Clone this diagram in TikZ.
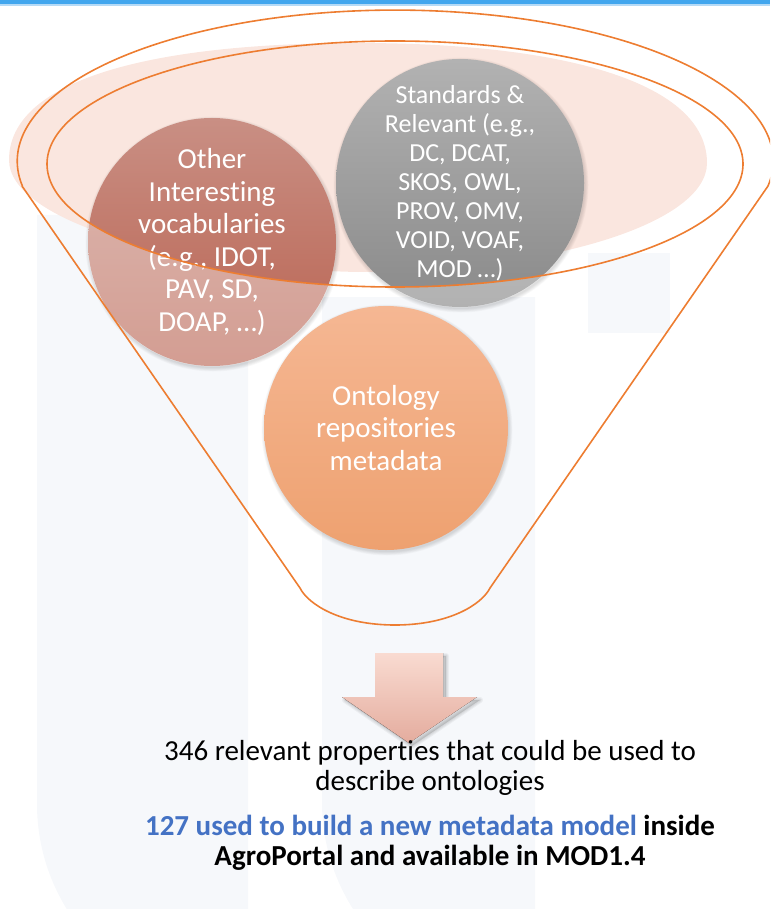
\documentclass[tikz,border=0pt]{standalone}
\usepackage{fontspec}
\setmainfont{Carlito}[Ligatures={NoCommon}]
\usetikzlibrary{calc}

\definecolor{barblue}{HTML}{42A6EE}
\definecolor{barlight}{HTML}{B5DAF6}
\definecolor{rimorange}{HTML}{ED7D31}
\definecolor{rimpink}{HTML}{FAE6DF}
\definecolor{wmark}{HTML}{F6F8FB}
\definecolor{redtop}{HTML}{C98F84}
\definecolor{redbot}{HTML}{B96250}
\definecolor{greytop}{HTML}{B2B2B2}
\definecolor{greybot}{HTML}{8A8A8A}
\definecolor{orgtop}{HTML}{F5B793}
\definecolor{orgbot}{HTML}{EEA170}
\definecolor{arrtop}{HTML}{F9DBD1}
\definecolor{arrbot}{HTML}{E4AC9E}
\definecolor{modelblue}{HTML}{4472C4}

% soft shadow under a disc: centre x, centre y, radius
\newcommand\discshadow[3]{%
  \foreach \k in {0,...,5}{%
    \fill[black, opacity=0.025] (#1+1,#2+2) circle [radius=#3+3.5-0.7*\k];
  }%
}

\tikzset{
  bubble/.style={circle, minimum size=#1, inner sep=0pt, draw=none},
  bubbletext/.style={text=white, align=center, inner sep=0pt},
  bigfont/.style={font=\fontsize{29}{32.5}\selectfont},
  smallfont/.style={font=\fontsize{26}{29}\selectfont},
  rim/.style={draw=rimorange, line width=1.6pt},
  bodytext/.style={anchor=base, inner sep=0pt, font=\fontsize{29}{30}\selectfont},
  boldtext/.style={anchor=base, inner sep=0pt, font=\fontsize{29}{30}\selectfont\bfseries},
}

\begin{document}
\begin{tikzpicture}[x=1pt, y=-1pt]
\useasboundingbox (0,0) rectangle (770,909);
\clip (0,0) rectangle (770,909);

% faint background watermark
\fill[wmark] (37,215) -- (37,804) arc[start angle=180, end angle=90, radius=200]
  -- (248,1004) -- (248,215) -- cycle;
\fill[wmark] (322,297) -- (322,802) arc[start angle=180, end angle=90, radius=200]
  -- (535,1002) -- (535,297) -- cycle;
\fill[wmark] (588,253) rectangle (670,333);

% top bar
\fill[barblue] (0,0) rectangle (770,4.3);
\fill[barlight] (0,4.3) rectangle (770,5.6);

% pink glow of the funnel mouth
\fill[rimpink] (9,160) .. controls (9,80) and (150,43) .. (358,43)
  .. controls (566,43) and (707,83) .. (707,163)
  .. controls (707,223) and (551,272) .. (358,272)
  .. controls (165,268) and (9,218) .. cycle;

% discs
\discshadow{212}{242}{124}
\node[bubble=248pt, top color=redtop, bottom color=redbot] (other) at (212,242) {};
\discshadow{460}{183}{124}
\node[bubble=248pt, top color=greytop, bottom color=greybot] (std) at (460,183) {};

% front of the funnel lightens the lower parts of the discs
\begin{scope}
  \clip (212,242) circle [radius=124.5];
  \fill[white, opacity=.38, even odd rule] (0,0) rectangle (770,909)
    (395,164) ellipse [x radius=348, y radius=123];
\end{scope}
\begin{scope}
  \clip (460,183) circle [radius=124.5];
  \fill[white, opacity=.34, even odd rule] (0,0) rectangle (770,909)
    (395,164) ellipse [x radius=348, y radius=123];
\end{scope}

\node[bubbletext, bigfont] (othertxt) at (other.center)
  {Other\\Interesting\\vocabularies\\(e.g., IDOT,\\PAV, SD,\\DOAP, …)};
\node[bubbletext, smallfont] (stdtxt) at (std.center)
  {Standards \&\\Relevant (e.g.,\\DC, DCAT,\\SKOS, OWL,\\PROV, OMV,\\VOID, VOAF,\\MOD …)};

\discshadow{386}{428}{122}
\node[bubble=244pt, top color=orgtop, bottom color=orgbot] (repo) at (386,428) {};
\node[bubbletext, bigfont] (repotxt) at (repo.center)
  {Ontology\\repositories\\metadata};

% funnel outline and inner rim
\draw[rim, line join=round] (22,186) -- (300,588)
  .. controls (308,604) and (340,625) .. (395,625)
  .. controls (450,625) and (482,604) .. (490,588)
  -- (768,186) arc[start angle=9.5, end angle=-189.5, x radius=378, y radius=151]
  -- cycle;
\draw[rim] (395,164) ellipse [x radius=348, y radius=123];

% down arrow
\foreach \w in {6,4,2}{
  \filldraw[black, opacity=0.045, line width=\w pt, line join=round, shift={(3,3)}]
    (375,653) -- (443,653) -- (443,697) -- (477,697) -- (409,743)
    -- (342,697) -- (375,697) -- cycle;
}
\fill[top color=arrtop, bottom color=arrbot]
  (375,653) -- (443,653) -- (443,697) -- (477,697) -- (409,743)
  -- (342,697) -- (375,697) -- cycle;

% result text
\node[bodytext] (res1) at (430,760) {346 relevant properties that could be used to};
\node[bodytext] (res2) at (430,790) {describe ontologies};
\node[boldtext] (mod1) at (430,835) {\textcolor{modelblue}{127 used to build a new metadata model} inside};
\node[boldtext] (mod2) at (430,865) {AgroPortal and available in MOD1.4};
\end{tikzpicture}
\end{document}
